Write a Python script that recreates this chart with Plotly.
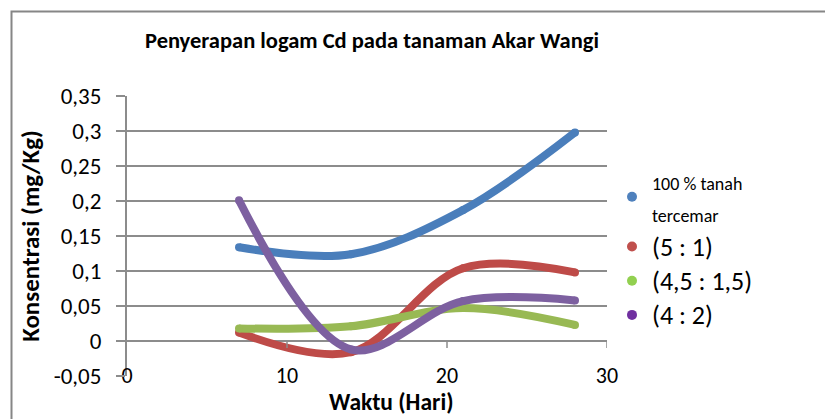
import plotly.graph_objects as go

# ---- data ----
hari = [7, 14, 21, 28]
series_names = ["100 % tanah tercemar", "(5 : 1)", "(4,5 : 1,5)", "(4 : 2)"]
tanah_100 = [0.134, 0.124, 0.187, 0.298]
rasio_5_1 = [0.012, -0.016, 0.104, 0.098]
rasio_45_15 = [0.018, 0.021, 0.047, 0.023]
rasio_4_2 = [0.201, -0.012, 0.057, 0.058]

y_tickvals = [-0.05, 0, 0.05, 0.1, 0.15, 0.2, 0.25, 0.3, 0.35]
y_ticktext = ["-0,05", "0", "0,05", "0,1", "0,15", "0,2", "0,25", "0,3", "0,35"]
x_tickvals = [0, 10, 20, 30]
x_ticktext = ["0", "10", "20", "30"]

line_colors = ["#4A7EBB", "#BE4B48", "#98B954", "#7D60A0"]
legend_colors = ["#4F81BD", "#C0504D", "#92D050", "#7030A0"]
legend_labels = [
    "<span style='font-size:18px'>100 % tanah</span><br><span style='font-size:18px'>tercemar</span>",
    "<span style='font-size:26px'>(5 : 1)</span>",
    "<span style='font-size:26px'>(4,5 : 1,5)</span>",
    "<span style='font-size:26px'>(4 : 2)</span>",
]

FONT = "Carlito, Lato, Liberation Sans, sans-serif"
OFF = 8                      # page body margin in the browser
W, H = 833 - OFF, 419 - OFF
# target page pixel positions of the plot area
PX0, PX1, PY0, PY1 = 127, 607, 96, 376
L, R, T, B = PX0 - OFF, W - (PX1 - OFF), PY0 - OFF, H - (PY1 - OFF)
GRID = "#8C8C8C"

fig = go.Figure()
for ys, col in zip([tanah_100, rasio_5_1, rasio_45_15, rasio_4_2], line_colors):
    fig.add_trace(go.Scatter(
        x=hari, y=ys, mode="lines+markers",
        line=dict(color=col, width=8, shape="spline", smoothing=1),
        marker=dict(color=col, size=8, line=dict(width=0)),
        showlegend=False, hoverinfo="x+y",
    ))
for lab, col in zip(legend_labels, legend_colors):
    fig.add_trace(go.Scatter(
        x=[None], y=[None], mode="markers", name=lab,
        marker=dict(color=col, size=10), showlegend=True,
    ))

# axis ticks on the y=0 line
for xv in x_tickvals[1:]:
    fig.add_shape(type="line", xref="x", yref="y", x0=xv, x1=xv,
                  ysizemode="pixel", yanchor=0, y0=0, y1=-7,
                  line=dict(color=GRID, width=1.5))

pw, ph = W - L - R, H - T - B
def px_x(p):   # page pixel -> paper x
    return (p - OFF - L) / pw
def px_y(p):   # page pixel -> paper y
    return (H - B - (p - OFF)) / ph

# outer border (top and left only)
fig.add_shape(type="rect", xref="paper", yref="paper",
              x0=px_x(11.5), x1=px_x(900), y0=px_y(480), y1=px_y(11.5),
              line=dict(color="#868686", width=2), fillcolor="rgba(0,0,0,0)", layer="below")

# x-axis title (placed right of centre, as in the original)
fig.add_annotation(text="<b>Waktu (Hari)</b>", xref="paper", yref="paper",
                   x=px_x(391), y=px_y(402), xanchor="center", yanchor="middle",
                   showarrow=False, font=dict(size=23.5, family=FONT, color="black"))

fig.update_layout(
    width=W, height=H,
    margin=dict(l=L, r=R, t=T, b=B, autoexpand=False),
    paper_bgcolor="white", plot_bgcolor="white",
    font=dict(family=FONT, color="black", size=22),
    title=dict(text="<b>Penyerapan logam Cd pada tanaman Akar Wangi</b>",
               font=dict(size=22.5, family=FONT),
               x=(372 - OFF) / W, xref="container", xanchor="center",
               y=1 - (40 - OFF) / H, yref="container", yanchor="middle"),
    showlegend=True,
    legend=dict(x=px_x(612), xanchor="left", y=px_y(159), yanchor="top",
                font=dict(size=24, family=FONT), bgcolor="rgba(0,0,0,0)",
                itemclick=False, tracegroupgap=0),
)

fig.update_xaxes(range=[0, 30], tickvals=x_tickvals, ticktext=x_ticktext,
                 showgrid=False, zeroline=False, showline=False, ticks="",
                 tickfont=dict(size=22), ticklabelstandoff=-16, automargin=False)
fig.update_yaxes(range=[-0.05, 0.35], tickvals=y_tickvals, ticktext=y_ticktext,
                 showgrid=True, gridcolor=GRID, gridwidth=1.5,
                 zeroline=True, zerolinecolor=GRID, zerolinewidth=1.5,
                 showline=True, linecolor=GRID, linewidth=2,
                 ticks="outside", ticklen=9, tickcolor=GRID, tickwidth=1.5,
                 tickfont=dict(size=23), ticklabelstandoff=10, automargin=False,
                 title=dict(text="<b>Konsentrasi (mg/Kg)</b>", font=dict(size=25), standoff=7))

fig.write_html("out.html")
